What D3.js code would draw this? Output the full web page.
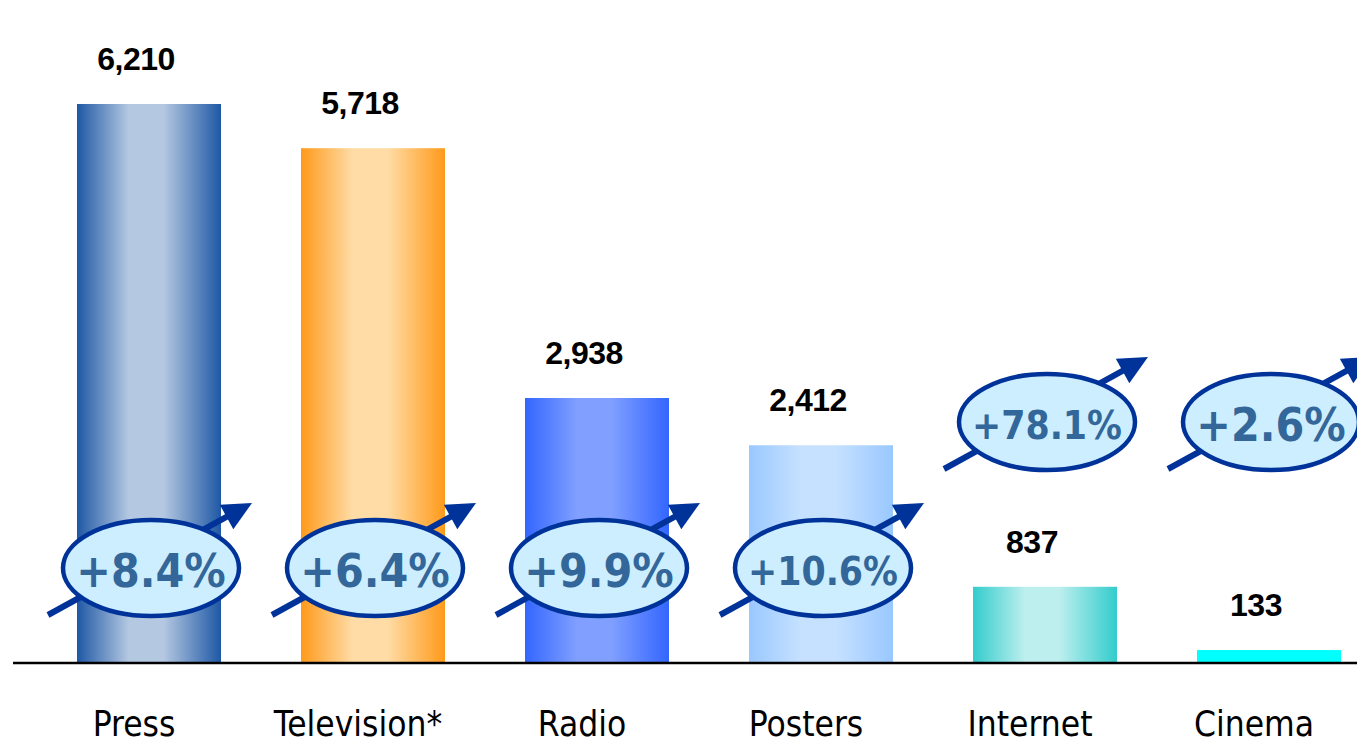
<!DOCTYPE html>
<html>
<head>
<meta charset="utf-8">
<script src="https://cdn.jsdelivr.net/npm/d3@7"></script>
<style>
  html, body { margin: 0; padding: 0; background: #ffffff; }
  svg { display: block; }
</style>
</head>
<body>
<script>
// Advertising spend by medium, with year-on-year growth
const categories = ["Press", "Television*", "Radio", "Posters", "Internet", "Cinema"];
const spend = [6210, 5718, 2938, 2412, 837, 133];
const growth = [8.4, 6.4, 9.9, 10.6, 78.1, 2.6];

// bar fills: [edge colour, centre colour]
const palette = [
  ["#1f58a5", "#b4c8e1"],
  ["#ff9a1a", "#ffdca6"],
  ["#3366ff", "#809fff"],
  ["#99c8ff", "#c6e1ff"],
  ["#33cccc", "#bcefee"],
  ["#00ffff", "#00ffff"]
];

const W = 1357, H = 745;
const baseY = 662;

const svg = d3.select("body").append("svg")
  .attr("width", W).attr("height", H);

const x = d3.scaleBand()
  .domain(categories)
  .range([37, 1381])
  .paddingInner(80 / 224)
  .paddingOuter(40 / 224);

const y = d3.scaleLinear()
  .domain([0, 7000])
  .range([baseY, 33]);

const rows = categories.map((c, i) => ({
  cat: c, value: spend[i], growth: growth[i], colors: palette[i], i
}));

// horizontal gradients: dark edges, light centre
const defs = svg.append("defs");
rows.forEach(d => {
  const g = defs.append("linearGradient")
    .attr("id", "grad" + d.i)
    .attr("x1", "0%").attr("x2", "100%").attr("y1", "0%").attr("y2", "0%");
  [[0, d.colors[0]], [0.36, d.colors[1]], [0.6, d.colors[1]], [1, d.colors[0]]]
    .forEach(([o, c]) => g.append("stop").attr("offset", o).attr("stop-color", c));
});

// bars
svg.append("g").selectAll("rect")
  .data(rows).join("rect")
  .attr("x", d => x(d.cat))
  .attr("y", d => y(d.value))
  .attr("width", x.bandwidth())
  .attr("height", d => baseY - y(d.value))
  .attr("fill", d => `url(#grad${d.i})`);

// baseline
svg.append("line")
  .attr("x1", 13).attr("x2", W)
  .attr("y1", baseY + 1).attr("y2", baseY + 1)
  .attr("stroke", "#000").attr("stroke-width", 2.5);

// value labels
const fmt = d3.format(",");
svg.append("g").selectAll("text")
  .data(rows).join("text")
  .attr("x", d => x(d.cat) + x.bandwidth() / 2 - 13)
  .attr("y", d => y(d.value) - 34)
  .attr("text-anchor", "middle")
  .attr("font-family", "'Liberation Sans', Arial, sans-serif")
  .attr("font-weight", "bold")
  .attr("font-size", 32)
  .attr("letter-spacing", -0.5)
  .attr("fill", "#000")
  .text(d => fmt(d.value));

// category axis
const axis = svg.append("g")
  .attr("transform", `translate(0,${baseY})`)
  .call(d3.axisBottom(x).tickSize(0));
axis.select(".domain").remove();
axis.selectAll("text")
  .attr("y", 74).attr("dy", 0).attr("dx", -15)
  .attr("font-family", "'DejaVu Sans Condensed', 'DejaVu Sans', sans-serif")
  .attr("font-stretch", "condensed")
  .attr("font-size", 35)
  .attr("fill", "#000");

// growth badges: ellipse with a rising arrow behind it
const lowRow = 568, highRow = 422;
const badgeColor = "#003399";
const badges = svg.append("g").selectAll("g")
  .data(rows).join("g")
  .attr("transform", d => {
    const cx = x(d.cat) + x.bandwidth() / 2 + 2;
    const cy = y(d.value) > lowRow - 60 ? highRow : lowRow;
    return `translate(${cx},${cy})`;
  });

// arrow shaft from lower-left to arrowhead base
const start = [-103, 47], tip = [101, -65];
const ang = Math.atan2(tip[1] - start[1], tip[0] - start[0]);
const headLen = 29, headHalf = 14;
const bx = tip[0] - headLen * Math.cos(ang), by = tip[1] - headLen * Math.sin(ang);
badges.append("line")
  .attr("x1", start[0]).attr("y1", start[1])
  .attr("x2", bx + 2 * Math.cos(ang)).attr("y2", by + 2 * Math.sin(ang))
  .attr("stroke", badgeColor).attr("stroke-width", 6);
badges.append("path")
  .attr("d", () => {
    const px = -Math.sin(ang), py = Math.cos(ang);
    return `M${tip[0]},${tip[1]}L${bx + px * headHalf},${by + py * headHalf}L${bx - px * headHalf},${by - py * headHalf}Z`;
  })
  .attr("fill", badgeColor);

badges.append("ellipse")
  .attr("rx", 88).attr("ry", 48)
  .attr("fill", "#cdeeff")
  .attr("stroke", badgeColor).attr("stroke-width", 4.5);

const growthFmt = d3.format("+.1f");
badges.append("text")
  .attr("text-anchor", "middle")
  .attr("y", 19)
  .attr("font-family", "'DejaVu Sans Condensed', 'DejaVu Sans', sans-serif")
  .attr("font-stretch", "condensed")
  .attr("font-weight", "bold")
  .attr("font-size", 46)
  .attr("fill", "#336699")
  .text(d => growthFmt(d.growth) + "%")
  .each(function () {
    // shrink long labels so they stay inside the ellipse
    const maxW = 150;
    const w = this.getComputedTextLength();
    if (w > maxW) {
      const fs = 46 * maxW / w;
      d3.select(this).attr("font-size", fs).attr("y", 19 * fs / 46 + 1);
    }
  });
</script>
</body>
</html>
